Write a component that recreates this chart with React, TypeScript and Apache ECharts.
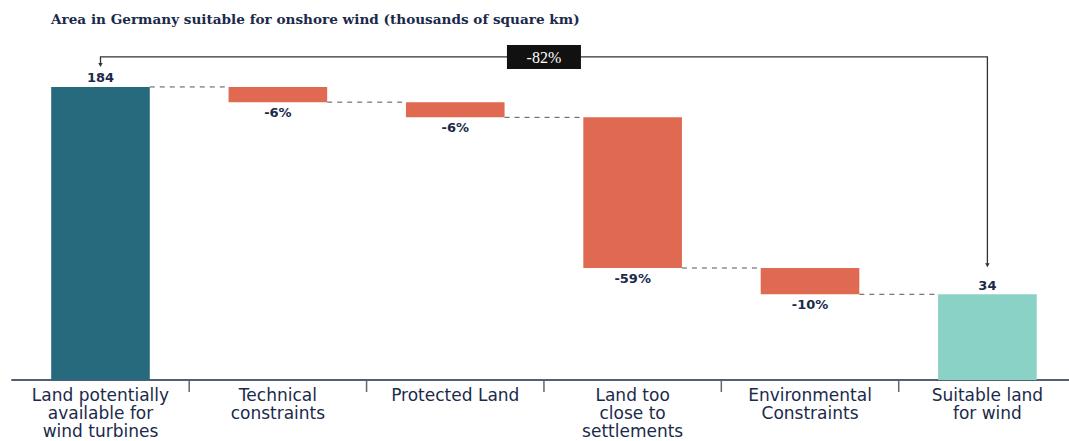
import React, { useEffect, useRef } from "react";
import * as echarts from "echarts";

// Waterfall: area in Germany suitable for onshore wind (thousands of km²)
const categories = [
  "Land potentially\navailable for\nwind turbines",
  "Technical\nconstraints",
  "Protected Land",
  "Land too\nclose to\nsettlements",
  "Environmental\nConstraints",
  "Suitable land\nfor wind",
];
const startTotal = 184;
const endTotal = 34;
const stepValues = [-11, -11, -109, -19];
const stepLabels = ["-6%", "-6%", "-59%", "-10%"];
const overallLabel = "-82%";

// value-axis range (totals are drawn from the axis floor)
const Y_MIN = -28;
const Y_MAX = 210;
// category slots on a numeric x axis; the right end runs past the last slot edge
const X_MIN = -0.5;
const X_MAX = 5.46;

const NAVY = "#1b2a4a";
const COLORS = { start: "#276a7e", step: "#e06a51", end: "#8ad2c6" };
const KIND = ["start", "step", "end"] as const;

type Row = [number, number, number, number, number, string];

function buildRows(): Row[] {
  const rows: Row[] = [];
  rows.push([0, Y_MIN, startTotal, 0, startTotal, String(startTotal)]);
  let level = startTotal;
  stepValues.forEach((s, k) => {
    const next = level + s;
    rows.push([k + 1, next, level, 1, next, stepLabels[k]]);
    level = next;
  });
  rows.push([categories.length - 1, Y_MIN, endTotal, 2, NaN, String(endTotal)]);
  return rows;
}

export default function App() {
  const ref = useRef<HTMLDivElement>(null);

  useEffect(() => {
    if (!ref.current) return;
    const chart = echarts.init(ref.current, null, { renderer: "svg" });
    const rows = buildRows();
    const BAR_RATIO = 0.556;

    chart.setOption({
      animation: false,
      backgroundColor: "#ffffff",
      title: {
        text: "Area in Germany suitable for onshore wind (thousands of square km)",
        left: 51,
        top: 12,
        padding: 0,
        textStyle: {
          fontFamily: "DejaVu Serif",
          fontWeight: "bold",
          fontSize: 13.6,
          color: NAVY,
        },
      },
      grid: { left: 11.8, right: 0, top: 51, bottom: 61 },
      xAxis: {
        type: "value",
        min: X_MIN,
        max: X_MAX,
        interval: 0.5,
        splitLine: { show: false },
        axisLine: { onZero: false, lineStyle: { color: NAVY, width: 1.5 } },
        axisTick: { show: false },
        axisLabel: {
          showMinLabel: false,
          showMaxLabel: false,
          margin: 6,
          fontFamily: "DejaVu Sans",
          fontSize: 17,
          lineHeight: 18,
          color: NAVY,
          formatter: (v: number) => (Number.isInteger(v) && categories[v] ? categories[v] : ""),
        },
      },
      yAxis: { type: "value", min: Y_MIN, max: Y_MAX, show: false, splitLine: { show: false } },
      series: [
        {
          type: "custom",
          data: rows,
          encode: { x: 0, y: [1, 2] },
          renderItem: (params: any, api: any) => {
            const i = api.value(0);
            const lo = api.value(1);
            const hi = api.value(2);
            const kind = KIND[api.value(3)];
            const link = api.value(4);
            const label = rows[params.dataIndex][5];
            const band = api.size([1, 0])[0];
            const w = band * BAR_RATIO;
            const pTop = api.coord([i, hi]);
            const pBot = api.coord([i, lo]);
            const children: any[] = [
              {
                type: "rect",
                shape: { x: pTop[0] - w / 2, y: pTop[1], width: w, height: pBot[1] - pTop[1] },
                style: { fill: COLORS[kind] },
              },
              {
                type: "text",
                x: pTop[0],
                y: kind === "step" ? pBot[1] + 10 : pTop[1] - 9,
                style: {
                  text: label,
                  align: "center",
                  verticalAlign: "middle",
                  fontFamily: "DejaVu Sans",
                  fontWeight: "bold",
                  fontSize: 13,
                  fill: NAVY,
                },
              },
            ];
            if (!isNaN(link)) {
              const ly = api.coord([i, link])[1];
              children.push({
                type: "line",
                shape: { x1: pTop[0] + w / 2, y1: ly, x2: pTop[0] + band - w / 2, y2: ly },
                style: { stroke: "#555555", lineWidth: 1, lineDash: [5, 5] },
              });
            }
            // boundary tick to the right of every category except the last
            if (i < categories.length - 1) {
              const p = api.coord([i + 0.5, Y_MIN]);
              children.push({
                type: "line",
                shape: { x1: p[0], y1: p[1] + 1, x2: p[0], y2: p[1] + 12 },
                style: { stroke: "#666666", lineWidth: 1.5 },
              });
            }
            return { type: "group", children };
          },
          z: 2,
        },
        {
          // overall change bracket from first to last total
          type: "custom",
          data: [[0, categories.length - 1, startTotal, endTotal]],
          encode: { x: [0, 1], y: [2, 3] },
          renderItem: (params: any, api: any) => {
            const a = api.coord([api.value(0), api.value(2)]);
            const b = api.coord([api.value(1), api.value(3)]);
            const topY = a[1] - 30;
            const leftEnd = a[1] - 20;
            const rightEnd = b[1] - 27;
            const mid = (a[0] + b[0]) / 2;
            const stroke = { stroke: "#333333", lineWidth: 1.3, fill: "none" };
            const arrow = (x: number, y: number) => ({
              type: "polygon",
              shape: { points: [[x - 2.2, y - 4], [x + 2.2, y - 4], [x, y]] },
              style: { fill: "#333333" },
            });
            return {
              type: "group",
              children: [
                {
                  type: "polyline",
                  shape: { points: [[a[0], leftEnd - 3], [a[0], topY], [b[0], topY], [b[0], rightEnd - 3]] },
                  style: stroke,
                },
                arrow(a[0], leftEnd),
                arrow(b[0], rightEnd),
                {
                  type: "rect",
                  shape: { x: mid - 37, y: topY - 12, width: 74, height: 24 },
                  style: { fill: "#111111" },
                },
                {
                  type: "text",
                  x: mid,
                  y: topY + 1,
                  style: {
                    text: overallLabel,
                    align: "center",
                    verticalAlign: "middle",
                    fontFamily: "'Liberation Serif', 'Times New Roman', serif",
                    fontSize: 16,
                    fill: "#ffffff",
                  },
                },
              ],
            };
          },
          z: 3,
        },
      ],
    });

    return () => chart.dispose();
  }, []);

  return (
    <div
      ref={ref}
      style={{ position: "fixed", left: 0, top: 0, width: 1069, height: 441, background: "#fff" }}
    />
  );
}
